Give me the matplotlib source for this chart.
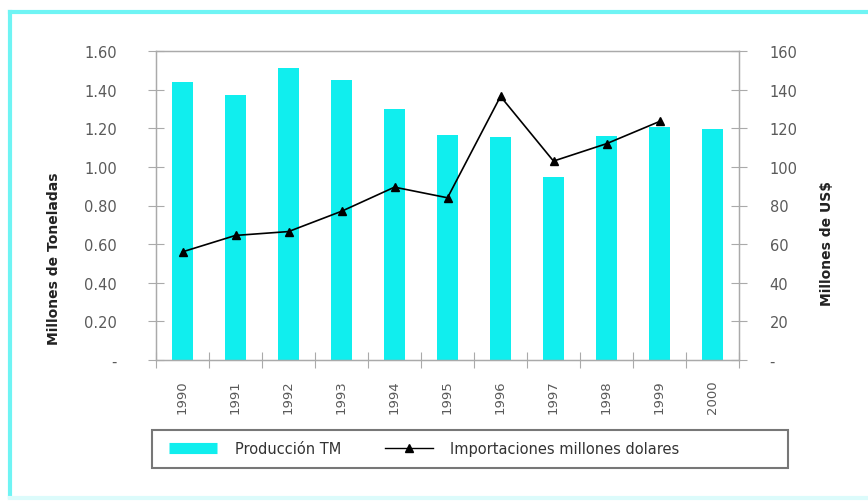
import numpy as np
import matplotlib
matplotlib.use("Agg")
from matplotlib import pyplot as plt
from matplotlib.patches import Rectangle
from matplotlib.lines import Line2D
from matplotlib.ticker import FixedLocator

years = ["1990", "1991", "1992", "1993", "1994", "1995", "1996", "1997", "1998", "1999", "2000"]
produccion = [1.44, 1.37, 1.51, 1.45, 1.30, 1.165, 1.155, 0.95, 1.16, 1.205, 1.195]
importaciones = [56, 64.5, 66.5, 77, 89.5, 84, 136.5, 103, 112, 123.5]

left_ticks = [0, 0.2, 0.4, 0.6, 0.8, 1.0, 1.2, 1.4, 1.6]
right_ticks = [0, 20, 40, 60, 80, 100, 120, 140, 160]

cyan = "#10eeee"
grey = "#5a5a5a"
spine = "#aaaaaa"

plt.rcParams["font.family"] = ["DejaVu Sans"]

fig = plt.figure(figsize=(8.68, 5.02), dpi=100)
W, H = 868, 502

# outer frame: strong cyan on top/left, faint at the bottom
fig.add_artist(Line2D([10 / W, 10 / W], [1 - 498 / H, 1 - 13 / H], transform=fig.transFigure,
                      color="#6ff4f4", linewidth=3))
fig.add_artist(Line2D([10 / W, 1.0], [1 - 13 / H, 1 - 13 / H], transform=fig.transFigure,
                      color="#6ff4f4", linewidth=3))
fig.add_artist(Line2D([10 / W, 1.0], [1 - 499 / H, 1 - 499 / H], transform=fig.transFigure,
                      color="#dcfbfb", linewidth=3))

ax = fig.add_axes([156 / W, 1 - 361 / H, (739 - 156) / W, (361 - 52) / H])
x = np.arange(len(years))
ax.bar(x, produccion, width=0.4, color=cyan, zorder=2)
ax.set_xlim(-0.5, len(years) - 0.5)
ax.set_ylim(0, 1.6)

ax.set_yticks(left_ticks)
ax.set_yticklabels(["-" if v == 0 else "%.2f" % v for v in left_ticks])
ax.tick_params(axis="y", direction="inout", length=12, width=0.8, color=spine,
               labelcolor=grey, labelsize=10.5, pad=22)

ax.set_xticks(x)
ax.set_xticklabels(years, rotation=90)
ax.tick_params(axis="x", which="major", length=0, labelcolor=grey, labelsize=9.5, pad=14)
ax.xaxis.set_minor_locator(FixedLocator(np.arange(-0.5, len(years), 1.0)))
ax.tick_params(axis="x", which="minor", direction="inout", length=12, width=0.8, color=spine)

for s in ax.spines.values():
    s.set_color(spine)
    s.set_linewidth(0.9)

ax2 = ax.twinx()
ax2.plot(x[:len(importaciones)], importaciones, color="black", linewidth=1.2,
         marker="^", markersize=6, zorder=3)
ax2.set_ylim(0, 160)
ax2.set_yticks(right_ticks)
ax2.set_yticklabels(["-" if v == 0 else "%d" % v for v in right_ticks])
ax2.tick_params(axis="y", direction="inout", length=12, width=0.8, color=spine,
                labelcolor=grey, labelsize=10.5, pad=16)
for s in ax2.spines.values():
    s.set_color(spine)
    s.set_linewidth(0.9)

fig.text(54 / W, 1 - 259 / H, "Millones de Toneladas", rotation=90, ha="center", va="center",
         fontsize=10, fontweight="bold", color="#222222")
fig.text(827 / W, 1 - 244 / H, "Millones de US$", rotation=90, ha="center", va="center",
         fontsize=10, fontweight="bold", color="#222222")

# legend box
fig.patches.append(Rectangle((152 / W, 1 - 469 / H), (788 - 152) / W, (469 - 431) / H,
                             transform=fig.transFigure, fill=False, edgecolor="#777777",
                             linewidth=1.5))
handles = [Line2D([], [], color=cyan, linewidth=8, solid_capstyle="butt"),
           Line2D([], [], color="black", linewidth=1.0, marker="^", markersize=6)]
fig.legend(handles, ["Producción TM", "Importaciones millones dolares"], ncol=2, frameon=False,
           loc="center left", bbox_to_anchor=(156 / W, 1 - 450 / H), fontsize=10.5,
           handlelength=3.3, handletextpad=1.2, columnspacing=3.0, labelcolor="#333333")

fig.savefig("out.png", dpi=100)
